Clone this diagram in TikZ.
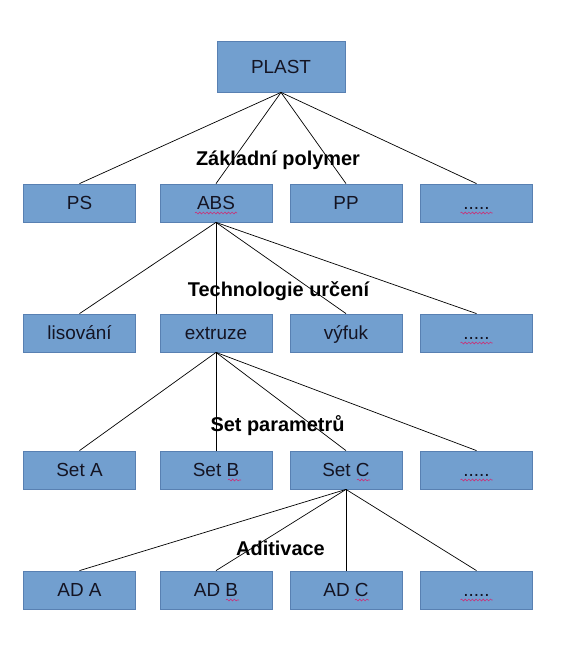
\documentclass[tikz,border=0pt]{standalone}
\usepackage{fontspec}
\setmainfont{Liberation Sans}
\usetikzlibrary{decorations.pathmorphing}
\definecolor{boxfill}{RGB}{114,159,207}
\definecolor{boxline}{RGB}{88,128,178}
\definecolor{txt}{RGB}{20,20,35}
\definecolor{spell}{RGB}{200,50,120}
\tikzset{
  bx/.style={draw=boxline, fill=boxfill, line width=0.8bp, minimum width=112bp, minimum height=38bp, inner sep=0pt, text=txt, text height=13.6bp, text depth=0pt, font=\fontsize{19}{19}\selectfont},
  topbx/.style={bx, minimum width=128bp, minimum height=51bp},
  lbl/.style={anchor=base, font=\fontsize{20}{20}\selectfont\bfseries, text=black, inner sep=0pt},
  conn/.style={draw=black, line width=0.7bp},
  wavy/.style={draw=spell, line width=0.6bp, decorate, decoration={snake, amplitude=0.9bp, segment length=3.6bp}}
}
\begin{document}
\begin{tikzpicture}[x=1bp, y=-1bp]
\useasboundingbox (0,0) rectangle (570,660);
% top
\node[topbx] (plast) at (281,66.5) {PLAST};
% row 1
\node[bx] (ps)  at (79.5,203) {PS};
\node[bx] (abs) at (216,203) {ABS};
\node[bx] (pp)  at (346,203) {PP};
\node[bx] (d1)  at (476.5,203) {.....};
% row 2
\node[bx] (lis) at (79.5,333) {lisování};
\node[bx] (ext) at (216,333) {extruze};
\node[bx] (vyf) at (346,333) {výfuk};
\node[bx] (d2)  at (476.5,333) {.....};
% row 3
\node[bx] (sa) at (79.5,470) {Set A};
\node[bx] (sb) at (216,470) {Set B};
\node[bx] (sc) at (346,470) {Set C};
\node[bx] (d3) at (476.5,470) {.....};
% row 4
\node[bx] (aa) at (79.5,590) {AD A};
\node[bx] (ab) at (216,590) {AD B};
\node[bx] (ac) at (346,590) {AD C};
\node[bx] (d4) at (476.5,590) {.....};
% connectors
\foreach \c in {ps,abs,pp,d1} \draw[conn] (plast.south) -- (\c.north);
\foreach \c in {lis,ext,vyf,d2} \draw[conn] (abs.south) -- (\c.north);
\foreach \c in {sa,sb,sc,d3} \draw[conn] (ext.south) -- (\c.north);
\foreach \c in {aa,ab,ac,d4} \draw[conn] (sc.south) -- (\c.north);
% level labels
\node[lbl] (l1) at (278,165.5) {Základní polymer};
\node[lbl] (l2) at (278.5,296.3) {Technologie určení};
\node[lbl] (l3) at (277.5,431.7) {Set parametrů};
\node[lbl] (l4) at (280.5,555) {Aditivace};
% spell-check underlines
\draw[wavy] ([xshift=-21bp,yshift=-10bp]abs.center) -- ([xshift=21bp,yshift=-10bp]abs.center);
\foreach \d in {d1,d2,d3,d4}
  \draw[wavy] ([xshift=-16bp,yshift=-10bp]\d.center) -- ([xshift=16bp,yshift=-10bp]\d.center);
\draw[wavy] ([xshift=12bp,yshift=-10bp]sb.center) -- ([xshift=25bp,yshift=-10bp]sb.center);
\draw[wavy] ([xshift=11bp,yshift=-10bp]sc.center) -- ([xshift=24bp,yshift=-10bp]sc.center);
\draw[wavy] ([xshift=10bp,yshift=-10bp]ab.center) -- ([xshift=23bp,yshift=-10bp]ab.center);
\draw[wavy] ([xshift=9bp,yshift=-10bp]ac.center) -- ([xshift=23bp,yshift=-10bp]ac.center);
\end{tikzpicture}
\end{document}
